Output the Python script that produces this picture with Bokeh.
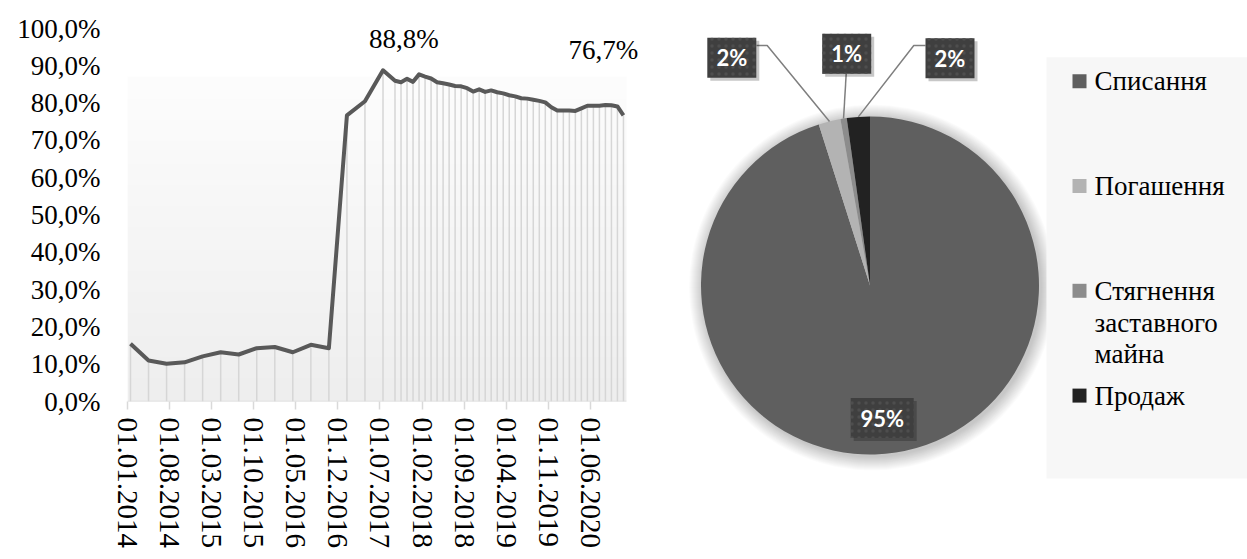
import numpy as np
from bokeh.plotting import figure
from bokeh.models import Range1d, FixedTicker, Label, ColumnDataSource
from bokeh.layouts import row
from bokeh.core.properties import value
from bokeh.embed import file_html
from bokeh.resources import INLINE

# ---------------- data: left chart ----------------
dates = ["2014-01", "2014-04", "2014-07", "2014-10",
         "2015-01", "2015-04", "2015-07", "2015-10",
         "2016-01", "2016-04", "2016-07", "2016-10",
         "2017-01", "2017-04", "2017-07", "2017-09", "2017-10", "2017-11", "2017-12",
         "2018-01", "2018-02", "2018-03", "2018-04", "2018-05", "2018-06",
         "2018-07", "2018-08", "2018-09", "2018-10", "2018-11", "2018-12",
         "2019-01", "2019-02", "2019-03", "2019-04", "2019-05", "2019-06",
         "2019-07", "2019-08", "2019-09", "2019-10", "2019-11", "2019-12",
         "2020-01", "2020-02", "2020-03", "2020-04", "2020-05", "2020-06",
         "2020-07", "2020-08", "2020-09", "2020-10", "2020-11"]
values = [15.5, 11.0, 10.1, 10.5,
          12.1, 13.2, 12.6, 14.3,
          14.6, 13.2, 15.2, 14.3,
          76.7, 80.5, 88.8, 86.0, 85.6, 86.5, 85.7,
          87.7, 87.1, 86.6, 85.6, 85.3, 85.0,
          84.6, 84.5, 84.0, 83.1, 83.7, 83.0,
          83.4, 82.9, 82.6, 82.1, 81.8, 81.3,
          81.2, 80.9, 80.6, 80.2, 78.9, 78.0,
          78.0, 78.0, 77.9, 78.6, 79.3, 79.3,
          79.3, 79.5, 79.4, 79.1, 76.7]
x_tick_labels = ["01.01.2014", "01.08.2014", "01.03.2015", "01.10.2015",
                 "01.05.2016", "01.12.2016", "01.07.2017", "01.02.2018",
                 "01.09.2018", "01.04.2019", "01.11.2019", "01.06.2020"]
y_ticks = [0, 10, 20, 30, 40, 50, 60, 70, 80, 90, 100]
y_tick_labels = ["0,0%", "10,0%", "20,0%", "30,0%", "40,0%", "50,0%",
                 "60,0%", "70,0%", "80,0%", "90,0%", "100,0%"]

# ---------------- data: pie chart ----------------
pie_categories = ["Списання", "Погашення", "Стягнення заставного майна", "Продаж"]
pie_values = [95.1, 2.1, 0.6, 2.2]
pie_colors = ["#5f5f5f", "#b3b3b3", "#8c8c8c", "#222222"]

SERIF = "Liberation Serif"


def month_index(ym):
    y, m = map(int, ym.split("-"))
    return (y - 2014) * 12 + (m - 1)


def label_index(lbl):
    d, m, y = map(int, lbl.split("."))
    return (y - 2014) * 12 + (m - 1)


xs = [month_index(d) + 0.5 for d in dates]
x_end = month_index(dates[-1]) + 1
tick_pos = [label_index(l) for l in x_tick_labels]

# ---------------- left figure ----------------
EXTRA = 4  # empty months to the right so the last data label is not clipped
p1 = figure(width=680, height=559, x_range=Range1d(0, x_end + EXTRA), y_range=Range1d(0, 100),
            output_backend="svg", toolbar_location=None,
            min_border_left=127, min_border_right=30, min_border_top=28, min_border_bottom=158)
p1.frame_align = False
p1.outline_line_color = None
p1.background_fill_color = "white"
p1.border_fill_color = "white"
p1.xgrid.visible = False
p1.ygrid.visible = False

# gradient plot-area background
gh = 200
top_c = np.array([253, 253, 253], dtype=float)
bot_c = np.array([238, 238, 238], dtype=float)
img = np.empty((gh, 1), dtype=np.uint32)
view = img.view(dtype=np.uint8).reshape((gh, 1, 4))
for i in range(gh):
    t = i / (gh - 1)
    c = bot_c + (top_c - bot_c) * t
    view[i, 0, 0] = int(c[0]); view[i, 0, 1] = int(c[1]); view[i, 0, 2] = int(c[2]); view[i, 0, 3] = 255
p1.image_rgba(image=[img], x=0, y=0, dw=x_end, dh=87)

src = ColumnDataSource(dict(x=xs, y=values, y0=[0] * len(values)))
p1.segment(x0="x", y0="y0", x1="x", y1="y", source=src, line_color="#d6d6d6", line_width=1.5)
# horizontal axis line (only over the data span)
p1.segment(x0=[0], y0=[0], x1=[x_end], y1=[0], line_color="#d9d9d9", line_width=1.5)
p1.line(x="x", y="y", source=src, line_color="#595959", line_width=4, line_join="round")

# axes
xa = p1.xaxis[0]
xa.ticker = FixedTicker(ticks=tick_pos)
xa.major_label_overrides = {t: l for t, l in zip(tick_pos, x_tick_labels)}
xa.major_label_orientation = "vertical"
xa.axis_line_color = None
xa.major_tick_line_color = "#d9d9d9"
xa.major_tick_line_width = 1.5
xa.major_tick_out = 8
xa.major_tick_in = 0
xa.minor_tick_line_color = None
xa.major_label_text_font = SERIF
xa.major_label_text_font_size = "29px"
xa.major_label_text_color = "black"
xa.major_label_standoff = 8

ya = p1.yaxis[0]
ya.ticker = FixedTicker(ticks=y_ticks)
ya.major_label_overrides = {t: l for t, l in zip(y_ticks, y_tick_labels)}
ya.axis_line_color = None
ya.major_tick_line_color = None
ya.minor_tick_line_color = None
ya.major_tick_out = 0
ya.major_tick_in = 0
ya.major_label_text_font = SERIF
ya.major_label_text_font_size = "27px"
ya.major_label_text_color = "black"
ya.major_label_standoff = 27


def pct(v):
    return f"{v:.1f}%".replace(".", ",")


i_peak = int(np.argmax(values))
i_last = len(values) - 1
for i, dx, dy in [(i_peak, 21, 31), (i_last, -20, 65)]:
    p1.add_layout(Label(x=xs[i], y=values[i], x_offset=dx, y_offset=dy, text=pct(values[i]),
                        text_align="center", text_baseline="middle",
                        text_font=SERIF, text_font_size="27px", text_color="black"))

# ---------------- right figure (pie + legend) ----------------
X0, X1, H = 680, 1247, 559
p2 = figure(width=X1 - X0, height=H, x_range=Range1d(X0, X1), y_range=Range1d(0, H),
            output_backend="svg", toolbar_location=None, min_border=0,
            x_axis_type=None, y_axis_type=None)
p2.frame_align = False
p2.outline_line_color = None
p2.background_fill_color = "white"
p2.border_fill_color = "white"
p2.grid.visible = False


def sy(y):
    return H - y


cx, cy, r = 869.5, sy(285), 169

# soft shadow
radii = [r + k for k in range(1, 15)]
p2.circle(x=[cx + 2] * len(radii), y=[cy - 2] * len(radii), radius=radii,
          fill_color="black", fill_alpha=0.017, line_color=None)

# legend background
p2.quad(left=1046, right=X1, bottom=sy(478), top=sy(56.7), fill_color="#f7f7f7", line_color=None)

fr = np.array(pie_values) / sum(pie_values)
cum = np.concatenate([[0.0], np.cumsum(fr)])
start = np.pi / 2 - 2 * np.pi * cum[:-1]
end = np.pi / 2 - 2 * np.pi * cum[1:]
mid = (start + end) / 2
psrc = ColumnDataSource(dict(start=start, end=end, color=pie_colors))
p2.wedge(x=cx, y=cy, radius=r, start_angle="start", end_angle="end", direction="clock",
         fill_color="color", line_color=None, source=psrc)

# data labels
label_texts = [f"{round(v):d}%" for v in pie_values]
box_centers = [(881.7, 417.5), (731.3, 57.3), (846.2, 53.3), (949.5, 57.8)]
leader_starts = [None, [(756, 45), (766.7, 45)], [(845.7, 73.3)], [(925, 45), (913.3, 45)]]
lx, ly = [], []
for i, pts in enumerate(leader_starts):
    if pts is None:
        continue
    ex = cx + r * np.cos(mid[i])
    ey = cy + r * np.sin(mid[i])
    lx.append([p[0] for p in pts] + [ex])
    ly.append([sy(p[1]) for p in pts] + [ey])
p2.multi_line(xs=lx, ys=ly, line_color="#7f7f7f", line_width=1.5)

bx = [c[0] for c in box_centers]
by = [sy(c[1]) for c in box_centers]
bw = [21 + 14 * len(t) for t in label_texts]
bh = [40] * len(label_texts)
p2.rect(x=[v + 3 for v in bx], y=[v - 3 for v in by], width=bw, height=bh,
        fill_color="black", fill_alpha=0.22, line_color=None)
p2.rect(x=bx, y=by, width=bw, height=bh, fill_color="#3f3f3f", line_color=None,
        hatch_pattern="dot", hatch_color="#4e4e4e", hatch_scale=7, hatch_weight=1.5)
p2.text(x=bx, y=by, text=label_texts, text_color="white", text_font=value("Lato"),
        text_font_style="bold", text_font_size="22px", text_align="center", text_baseline="middle")

# legend (manual)
leg_y = [80.7 + i * 104.8 for i in range(len(pie_categories))]
p2.scatter(x=[1079] * len(leg_y), y=[sy(v) for v in leg_y], marker="square", size=14,
           fill_color=pie_colors, line_color=None)
leg_text = [c.replace(" ", "\n") for c in pie_categories]
p2.text(x=[1094] * len(leg_y), y=[sy(v - 15) for v in leg_y], text=leg_text,
        text_color="black", text_font=value(SERIF), text_font_size="27px",
        text_align="left", text_baseline="top", text_line_height=1.06)

layout = row(p1, p2)
open("out.html", "w").write(file_html(layout, INLINE))
